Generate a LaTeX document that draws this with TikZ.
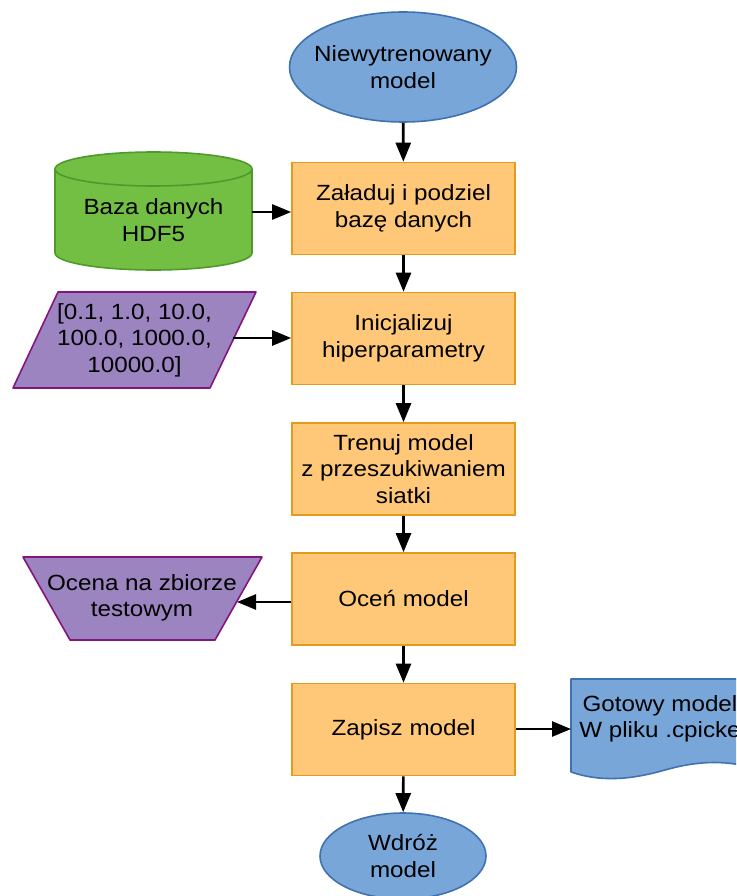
\documentclass[tikz,border=0pt]{standalone}
\usepackage{fontspec}
\setmainfont{Liberation Sans}[FakeStretch=1.1]
\usetikzlibrary{arrows.meta,shapes.geometric}
\definecolor{bluefill}{HTML}{79A6D9}
\definecolor{blueline}{HTML}{3E72B0}
\definecolor{orangefill}{HTML}{FFC878}
\definecolor{orangeline}{HTML}{E39B1E}
\definecolor{greenfill}{HTML}{72BF44}
\definecolor{greenline}{HTML}{4F9A2A}
\definecolor{purplefill}{HTML}{9B84BF}
\definecolor{purpleline}{HTML}{84147F}
\begin{document}
\begin{tikzpicture}[x=1pt,y=-1pt,
  every node/.style={font=\fontsize{22}{26.5}\selectfont, align=center, text=black, inner sep=0pt},
  ellnode/.style={ellipse, draw=blueline, fill=bluefill, line width=1.6pt},
  procbox/.style={rectangle, draw=orangeline, fill=orangefill, line width=1.6pt, minimum width=223pt, minimum height=92pt},
  arr/.style={line width=2.6pt, -{Triangle[length=19pt,width=15pt]}},
  purp/.style={draw=purpleline, fill=purplefill, line width=1.6pt, line join=round},
  docshape/.style={draw=blueline, fill=bluefill, line width=1.6pt, line join=round}
]
\useasboundingbox (0,0) rectangle (736,896);
\clip (0,0) rectangle (736,896);

% main column
\node[ellnode, inner xsep=-9pt, minimum width=227pt, minimum height=110pt] (start) at (403,67) {Niewytrenowany\\model};
\node[procbox] (load) at (403.5,208.5) {Załaduj i podziel\\bazę danych};
\node[procbox] (init) at (403.5,338.5) {Inicjalizuj\\hiperparametry};
\node[procbox] (train) at (403.5,469) {Trenuj model\\z przeszukiwaniem\\siatki};
\node[procbox] (eval) at (403.5,599) {Oceń model};
\node[procbox] (save) at (403.5,729.5) {Zapisz model};
\node[ellnode, minimum width=166pt, minimum height=86pt] (deploy) at (403,856) {Wdróż\\model};

% database cylinder
\draw[draw=greenline, fill=greenfill, line width=1.6pt]
  (55,169) -- (55,253) arc[start angle=180, end angle=0, x radius=98.5, y radius=17] -- (252,169)
  arc[start angle=0, end angle=-180, x radius=98.5, y radius=17] -- cycle;
\draw[draw=greenline, line width=1.6pt] (55,169) arc[start angle=180, end angle=0, x radius=98.5, y radius=17];
\node (db) at (153.5,220) {Baza danych\\HDF5};
\coordinate (dbout) at (252,212);

% parameters parallelogram
\draw[purp] (58,292) -- (256,292) -- (210,388) -- (13,388) -- cycle;
\node (params) at (134.5,340) {[0.1, 1.0, 10.0,\\100.0, 1000.0,\\10000.0]};
\coordinate (paramsout) at (233,338);

% evaluation trapezoid
\draw[purp] (23,557) -- (262,557) -- (215,640) -- (70,640) -- cycle;
\node (test) at (142,598) {Ocena na zbiorze\\testowym};
\coordinate (testin) at (237,602);

% document shape
\draw[docshape] (571,679) -- (760,679) -- (760,770) .. controls (730,760) and (700,760) .. (665,770)
  .. controls (630,780) and (600,782) .. (571,772) -- cycle;
\node (file) at (660,719) {Gotowy model\\W pliku .cpicke};
\coordinate (filein) at (571,729);

% connectors
\draw[arr] (start) -- (load);
\draw[arr] (load) -- (init);
\draw[arr] (init) -- (train);
\draw[arr] (train) -- (eval);
\draw[arr] (eval) -- (save);
\draw[arr] (save) -- (deploy);
\draw[arr] (dbout) -- (load.west |- dbout);
\draw[arr] (paramsout) -- (init.west |- paramsout);
\draw[arr] (eval.west |- testin) -- (testin);
\draw[arr] (save.east |- filein) -- (filein);
\end{tikzpicture}
\end{document}
